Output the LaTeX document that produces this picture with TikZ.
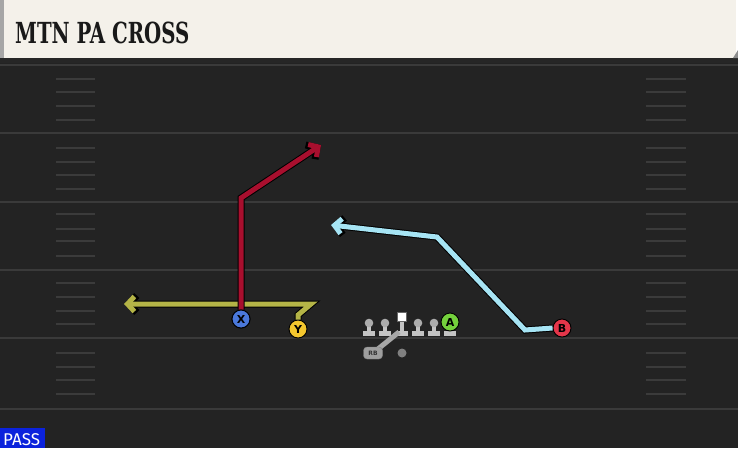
\documentclass[tikz,border=0pt]{standalone}
\usepackage{fontspec}
\setmainfont{DejaVu Sans}
\newfontfamily\titlefont{DejaVu Serif}
\newfontfamily\passfont{Fira Sans}
\usetikzlibrary{arrows.meta}
\definecolor{fieldbg}{HTML}{232323}
\definecolor{yardcol}{HTML}{3A3A3A}
\definecolor{hashcol}{HTML}{3B3B3B}
\definecolor{headbg}{HTML}{F4F1EA}
\definecolor{redroute}{HTML}{A80F2E}
\definecolor{oliveroute}{HTML}{B4B447}
\definecolor{cyanroute}{HTML}{A6E4F4}
\definecolor{xblue}{HTML}{4A78DA}
\definecolor{yyellow}{HTML}{F4C72E}
\definecolor{bred}{HTML}{E4364A}
\definecolor{agreen}{HTML}{74D03C}
\definecolor{linegrey}{HTML}{C4C4C4}
\definecolor{passblue}{HTML}{0B22DC}
\tikzset{
  x=1pt, y=-1pt,
  yardline/.style={draw=yardcol, line width=2pt},
  hashmark/.style={draw=hashcol, line width=1.6pt},
  routeout/.style={draw=black, line width=7pt, line join=miter,
     -{Straight Barb[length=8pt,width=17pt,line width=7pt]}},
  routein/.style={line width=5pt, line join=miter},
  tipin/.style={-{Straight Barb[length=7pt,width=15pt,line width=5pt,color=#1]}},
  player/.style={circle, draw=black, line width=0.9pt, minimum size=18pt,
     inner sep=0pt, font=\bfseries\fontsize{11}{11}\selectfont, text=black},
  lineman/.pic={
    \fill[linegrey] (-6,330.5) rectangle (6,336);
    \fill[linegrey] (-2,322) rectangle (2,331);
    \fill[linegrey!88!black] (0,323) circle (4.3);
  }
}
\begin{document}
\begin{tikzpicture}
\useasboundingbox (0,0) rectangle (738,448);
% field
\fill[fieldbg] (0,56) rectangle (738,448);
\fill[black!85] (0,57) rectangle (738,63);
% header
\fill[headbg] (0,0) rectangle (736,58);
\fill[black!35] (0,0) rectangle (3.5,58);
\fill[black!45] (733,58) -- (738,50) -- (738,58) -- cycle;
\node[anchor=base west, inner sep=0pt, text=black!90] (title) at (15,43) {\scalebox{0.68}[1]{\titlefont\bfseries\fontsize{29}{29}\selectfont MTN PA CROSS}};
% yard lines
\foreach \yy in {65,133,202,270,338,409}
  \draw[yardline] (0,\yy) -- (738,\yy);
% hash marks
\foreach \yy in {79,92,106,120,148,162,175,189,214,229,241,256,283,297,311,324,353,367,380,394}{
  \draw[hashmark] (56,\yy) -- (95,\yy);
  \draw[hashmark] (646,\yy) -- (686,\yy);
}
% players
\node[player, fill=xblue] (X) at (241,319) {X};
\node[player, fill=yyellow] (Y) at (298,329) {Y};
\node[player, fill=bred] (B) at (562,328) {B};
% routes: olive
\coordinate (o1) at (298,315);
\coordinate (o2) at (311,304);
\coordinate (o3) at (124,304);
\draw[routeout] (Y.north) -- (o1) -- (o2) -- (o3);
\draw[routein, draw=oliveroute, tipin=oliveroute] (Y.north) -- (o1) -- (o2) -- (o3);
% red
\coordinate (r1) at (241,198);
\coordinate (r2) at (321,145);
\draw[routeout] (X.north) -- (r1) -- (r2);
\draw[routein, draw=redroute, tipin=redroute] (X.north) -- (r1) -- (r2);
% cyan
\coordinate (c1) at (525,330);
\coordinate (c2) at (437,237);
\coordinate (c3) at (331,225);
\draw[routeout] (B.west) -- (c1) -- (c2) -- (c3);
\draw[routein, draw=cyanroute, tipin=cyanroute] (B.west) -- (c1) -- (c2) -- (c3);
\node[player, fill=xblue] at (241,319) {X};
% offensive line
\pic at (369,0) {lineman};
\pic at (385,0) {lineman};
\pic at (418,0) {lineman};
\pic at (434,0) {lineman};
% center
\fill[linegrey] (396,330.5) rectangle (408,336);
\fill[linegrey] (400,320) rectangle (404,331);
\node[draw=black!60, fill=white, minimum size=9pt, inner sep=0pt] (C) at (402,317) {};
% A with base
\fill[linegrey] (444,330.5) rectangle (456,336);
\node[player, fill=agreen] (A) at (450,322) {A};
% RB
\coordinate (hand) at (399,332);
\draw[black!35, line width=5pt] (373,353) -- (hand);
\node[draw=black!50, fill=black!38, rounded corners=3.5pt, minimum width=19pt, minimum height=12pt, inner sep=0pt, font=\bfseries\fontsize{6}{6}\selectfont, text=black!80] (RB) at (373,353) {RB};
\node[circle, fill=black!50, minimum size=9pt, inner sep=0pt] (QB) at (402,353) {};
% pass label
\fill[passblue] (0,428) rectangle (45,448);
\node[anchor=base west, inner sep=0pt, text=white, font=\passfont\fontsize{17}{17}\selectfont] (pass) at (3,445) {PASS};
\end{tikzpicture}
\end{document}
